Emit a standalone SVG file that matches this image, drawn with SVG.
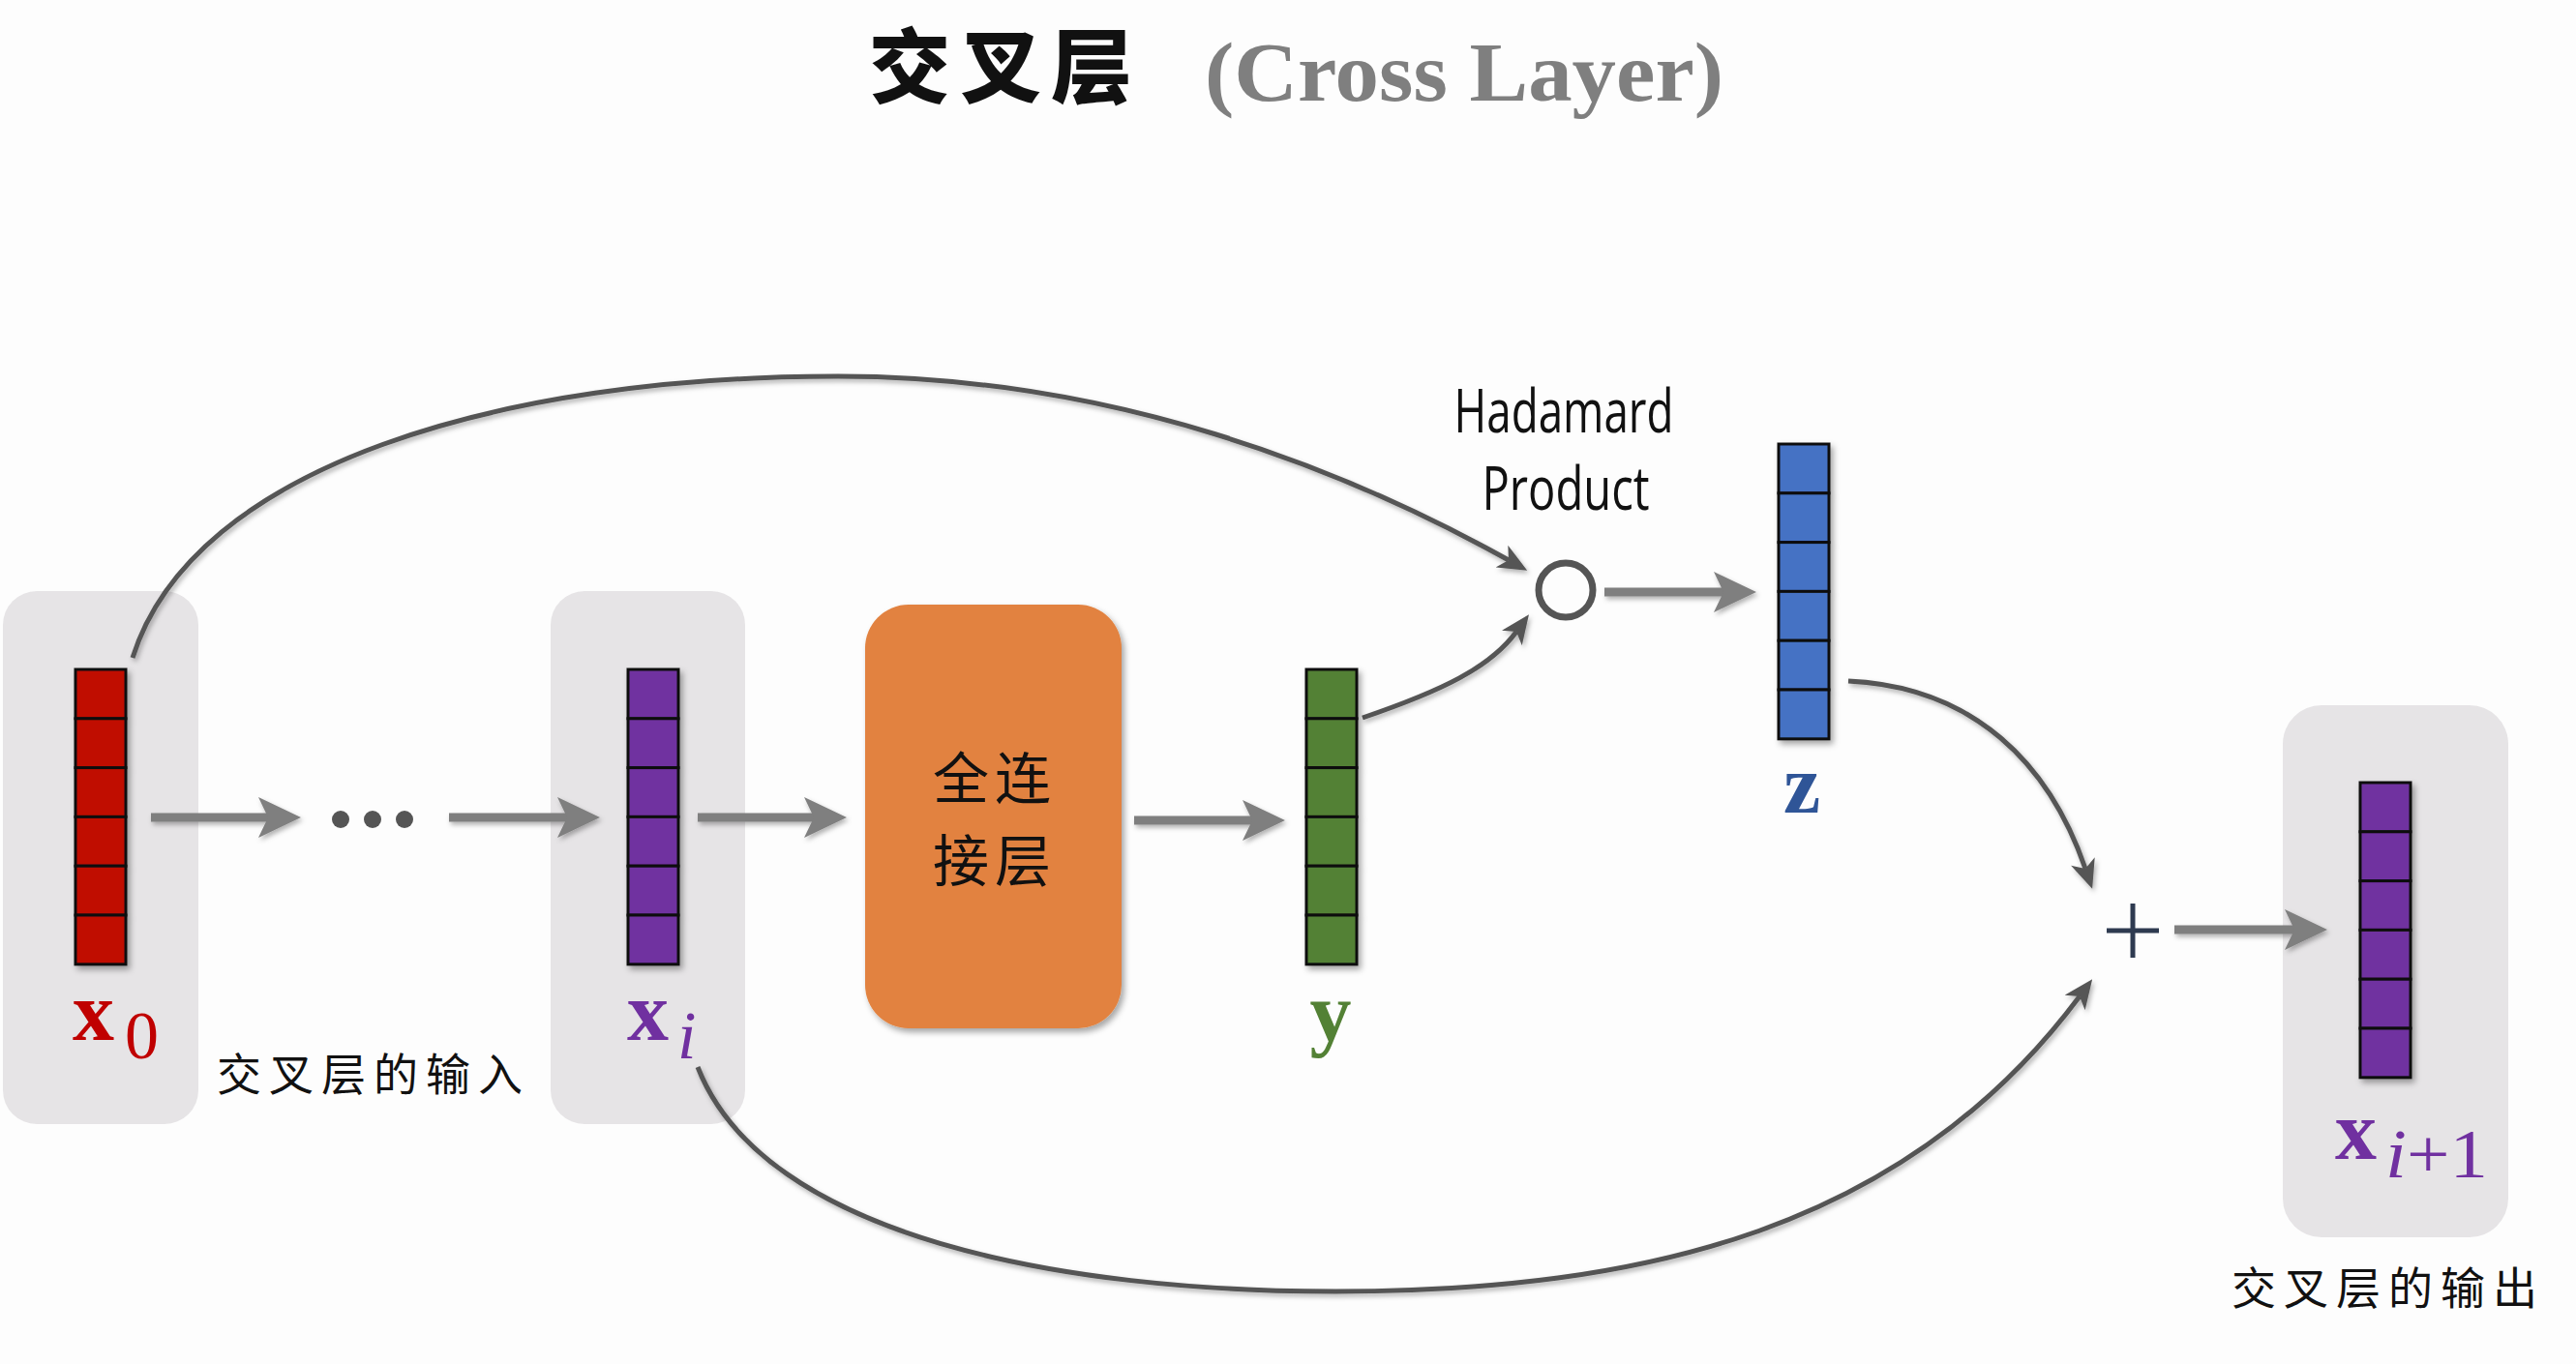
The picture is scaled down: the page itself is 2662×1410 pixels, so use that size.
<svg xmlns="http://www.w3.org/2000/svg" width="2662" height="1410" viewBox="0 0 2662 1410">
<defs>
<filter id="sh" x="-20%" y="-20%" width="150%" height="150%"><feDropShadow dx="3" dy="4" stdDeviation="3" flood-color="#000" flood-opacity="0.35"/></filter>
<filter id="shs" filterUnits="userSpaceOnUse" x="0" y="0" width="2662" height="1410"><feDropShadow dx="2" dy="3" stdDeviation="2.5" flood-color="#000" flood-opacity="0.3"/></filter>
<marker id="ah" markerUnits="userSpaceOnUse" viewBox="0 -21 44 42" markerWidth="44" markerHeight="42" refX="12" refY="0" orient="auto"><path d="M0,-21 L44,0 L0,21 L10,0 Z" fill="#7f7f7f"/></marker>
<marker id="ac" markerUnits="userSpaceOnUse" viewBox="0 -13 30 26" markerWidth="30" markerHeight="26" refX="8" refY="0" orient="auto"><path d="M0,-13 L30,0 L0,13 L8,0 Z" fill="#555"/></marker>
</defs>
<style>
.bg{fill:#e6e4e6}
.cell{stroke:#111;stroke-width:3}
.red{fill:#c00f00}.pur{fill:#7030a0}.grn{fill:#538135}.blu{fill:#4472c4}
.arr{stroke:#7f7f7f;stroke-width:9;fill:none;marker-end:url(#ah)}
.crv{stroke:#555;stroke-width:5;fill:none;marker-end:url(#ac)}
.lbl{font-family:"Liberation Serif",serif;font-weight:bold}
.sub{font-family:"Liberation Serif",serif}
.cjk{font-family:"Noto Sans CJK SC",sans-serif;fill:#111}
</style>
<rect width="2662" height="1410" fill="#fdfdfd"/>

<g id="title">
<text x="898" y="100" font-family="Noto Sans CJK SC, sans-serif" font-weight="900" font-size="84" letter-spacing="10" fill="#111">交叉层</text>
<text x="1245" y="104" font-family="Liberation Serif, serif" font-weight="bold" font-size="86" fill="#7f7f7f" textLength="536" lengthAdjust="spacingAndGlyphs">(Cross  Layer)</text>
</g>

<g id="box-x0"><rect class="bg" x="3" y="611" width="202" height="551" rx="35"/></g>
<g id="box-xi"><rect class="bg" x="569" y="611" width="201" height="551" rx="35"/></g>
<g id="box-xout"><rect class="bg" x="2359" y="729" width="233" height="550" rx="40"/></g>

<g id="connectors">
<g filter="url(#shs)">
<path class="arr" d="M156,845 H279"/>
<path class="arr" d="M464,845 H588"/>
<path class="arr" d="M721,845 H843"/>
<path class="arr" d="M1172,848 H1296"/>
<path class="arr" d="M1658,612 H1783"/>
<path class="arr" d="M2247,961 H2373"/>
<path class="crv" d="M137,680 C200,480 520,389 866,389 C1150,389 1390,485 1559,579"/>
<path class="crv" d="M1408,742 C1490,714 1540,690 1567,653"/>
<path class="crv" d="M1910,704 C2040,710 2118,790 2155,898"/>
<path class="crv" d="M721,1103 C790,1280 1100,1335 1380,1335 C1700,1335 1970,1270 2149,1030"/>
</g>
</g>

<g id="x0" filter="url(#sh)">
<rect class="cell red" x="78" y="692" width="52" height="50.8"/>
<rect class="cell red" x="78" y="742.8" width="52" height="50.8"/>
<rect class="cell red" x="78" y="793.6" width="52" height="50.8"/>
<rect class="cell red" x="78" y="844.4" width="52" height="50.8"/>
<rect class="cell red" x="78" y="895.2" width="52" height="50.8"/>
<rect class="cell red" x="78" y="946" width="52" height="50.8"/>
</g>
<g id="x0-label"><text class="lbl" x="75" y="1075" font-size="86" fill="#c00000">x</text><text class="sub" x="129" y="1094" font-size="70" fill="#c00000">0</text></g>

<g id="dots" fill="#555"><circle cx="352" cy="847" r="9"/><circle cx="385" cy="847" r="9"/><circle cx="418" cy="847" r="9"/></g>

<g id="xi" filter="url(#sh)">
<rect class="cell pur" x="649" y="692" width="52" height="50.8"/>
<rect class="cell pur" x="649" y="742.8" width="52" height="50.8"/>
<rect class="cell pur" x="649" y="793.6" width="52" height="50.8"/>
<rect class="cell pur" x="649" y="844.4" width="52" height="50.8"/>
<rect class="cell pur" x="649" y="895.2" width="52" height="50.8"/>
<rect class="cell pur" x="649" y="946" width="52" height="50.8"/>
</g>
<g id="xi-label"><text class="lbl" x="648" y="1075" font-size="86" fill="#7030a0">x</text><text class="sub" x="700" y="1094" font-size="70" font-style="italic" fill="#7030a0">i</text></g>

<g id="input-label"><text class="cjk" x="224" y="1127" font-size="46" letter-spacing="8">交叉层的输入</text></g>

<g id="fc">
<rect x="894" y="625" width="265" height="438" rx="45" fill="#e2823f" filter="url(#sh)"/>
<text class="cjk" x="1028" y="826" font-size="58" letter-spacing="6" text-anchor="middle">全连</text>
<text class="cjk" x="1028" y="911" font-size="58" letter-spacing="6" text-anchor="middle">接层</text>
</g>

<g id="y" filter="url(#sh)">
<rect class="cell grn" x="1350" y="692" width="52" height="50.8"/>
<rect class="cell grn" x="1350" y="742.8" width="52" height="50.8"/>
<rect class="cell grn" x="1350" y="793.6" width="52" height="50.8"/>
<rect class="cell grn" x="1350" y="844.4" width="52" height="50.8"/>
<rect class="cell grn" x="1350" y="895.2" width="52" height="50.8"/>
<rect class="cell grn" x="1350" y="946" width="52" height="50.8"/>
</g>
<g id="y-label"><text class="lbl" x="1375" y="1075" font-size="86" fill="#538135" text-anchor="middle">y</text></g>

<g id="hadamard">
<circle cx="1618" cy="610" r="28" fill="none" stroke="#555" stroke-width="7"/>
<text x="1616" y="447" font-family="Open Sans, sans-serif" font-size="62" fill="#111" text-anchor="middle" textLength="227" lengthAdjust="spacingAndGlyphs">Hadamard</text>
<text x="1618" y="527" font-family="Open Sans, sans-serif" font-size="62" fill="#111" text-anchor="middle" textLength="173" lengthAdjust="spacingAndGlyphs">Product</text>
</g>

<g id="z" filter="url(#sh)">
<rect class="cell blu" x="1838" y="459" width="52" height="50.8"/>
<rect class="cell blu" x="1838" y="509.8" width="52" height="50.8"/>
<rect class="cell blu" x="1838" y="560.6" width="52" height="50.8"/>
<rect class="cell blu" x="1838" y="611.4" width="52" height="50.8"/>
<rect class="cell blu" x="1838" y="662.2" width="52" height="50.8"/>
<rect class="cell blu" x="1838" y="713" width="52" height="50.8"/>
</g>
<g id="z-label"><text class="lbl" x="1862" y="840" font-size="86" fill="#2f5597" text-anchor="middle">z</text></g>

<g id="plus" stroke="#2e3a50" stroke-width="5"><path d="M2177,962 H2231 M2204,934 V990"/></g>

<g id="xout" filter="url(#sh)">
<rect class="cell pur" x="2439" y="809" width="52" height="50.8"/>
<rect class="cell pur" x="2439" y="859.8" width="52" height="50.8"/>
<rect class="cell pur" x="2439" y="910.6" width="52" height="50.8"/>
<rect class="cell pur" x="2439" y="961.4" width="52" height="50.8"/>
<rect class="cell pur" x="2439" y="1012.2" width="52" height="50.8"/>
<rect class="cell pur" x="2439" y="1063" width="52" height="50.8"/>
</g>
<g id="xout-label"><text class="lbl" x="2413" y="1198" font-size="86" fill="#7030a0">x</text><text class="sub" x="2465" y="1217" font-size="72" fill="#7030a0" textLength="106" lengthAdjust="spacingAndGlyphs"><tspan font-style="italic">i</tspan>+1</text></g>

<g id="output-label"><text class="cjk" x="2306" y="1348" font-size="46" letter-spacing="8">交叉层的输出</text></g>
</svg>
